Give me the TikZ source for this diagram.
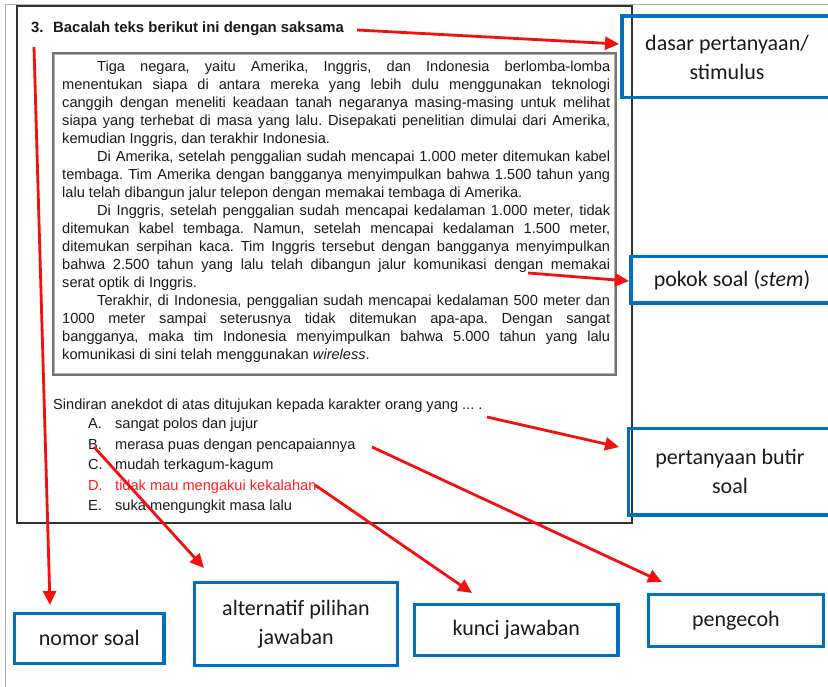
\documentclass[tikz,border=0pt]{standalone}
\usepackage{fontspec}
\setmainfont{Liberation Sans}
\newfontfamily\calibri{Carlito}
\usetikzlibrary{arrows.meta}
\definecolor{boxblue}{HTML}{0070C0}
\definecolor{arrred}{HTML}{F41010}
\definecolor{ink}{HTML}{1A1A1A}
\definecolor{keyred}{HTML}{FF2020}
\frenchspacing
% a justified line of the passage
\newcommand\jline[1]{\makebox[\linewidth][s]{#1}}
\newcommand\ind{\hspace*{35pt}}

\begin{document}
\begin{tikzpicture}[x=1pt,y=-1pt,
  box/.style={draw=boxblue, line width=3.5pt, align=center, text=ink,
    font=\calibri\fontsize{22}{29}\selectfont, inner sep=0pt},
  pointer/.style={draw=arrred, line width=2.8pt, -{Triangle[length=14pt,width=13pt]}},
  body/.style={font=\fontsize{14.6}{18}\selectfont, text=ink, inner sep=0pt, anchor=base west},
]
\useasboundingbox (0,0) rectangle (828,687);
\fill[white] (0,0) rectangle (828,687);
\clip (0,0) rectangle (828,687);

% page frame
\draw[gray!60, line width=1pt] (5,687) -- (5,5) -- (828,5);
% question sheet
\draw[black!80, line width=1.5pt] (17,6) rectangle (632,523);
% passage frame
\draw[black!55, line width=1.3pt] (53,53) rectangle (616,375);
\draw[black!30, line width=0.8pt] (54.8,54.8) rectangle (614.2,373.2);

% question number and instruction
\node[body, font=\bfseries\fontsize{14.9}{18}\selectfont] (num) at (31,33) {3.};
\node[body, font=\bfseries\fontsize{14.9}{18}\selectfont] (heading) at (53,33) {Bacalah teks berikut ini dengan saksama};

% passage
\node[body] (passage) at (62,72) {\parbox[t]{548pt}{\fontsize{14.6}{18}\selectfont
\jline{\ind Tiga negara, yaitu Amerika, Inggris, dan Indonesia berlomba-lomba}\\
\jline{menentukan siapa di antara mereka yang lebih dulu menggunakan teknologi}\\
\jline{canggih dengan meneliti keadaan tanah negaranya masing-masing untuk melihat}\\
\jline{siapa yang terhebat di masa yang lalu. Disepakati penelitian dimulai dari Amerika,}\\
kemudian Inggris, dan terakhir Indonesia.\\
\jline{\ind Di Amerika, setelah penggalian sudah mencapai 1.000 meter ditemukan kabel}\\
\jline{tembaga. Tim Amerika dengan bangganya menyimpulkan bahwa 1.500 tahun yang}\\
lalu telah dibangun jalur telepon dengan memakai tembaga di Amerika.\\
\jline{\ind Di Inggris, setelah penggalian sudah mencapai kedalaman 1.000 meter, tidak}\\
\jline{ditemukan kabel tembaga. Namun, setelah mencapai kedalaman 1.500 meter,}\\
\jline{ditemukan serpihan kaca. Tim Inggris tersebut dengan bangganya menyimpulkan}\\
\jline{bahwa 2.500 tahun yang lalu telah dibangun jalur komunikasi dengan memakai}\\
serat optik di Inggris.\\
\jline{\ind Terakhir, di Indonesia, penggalian sudah mencapai kedalaman 500 meter dan}\\
\jline{1000 meter sampai seterusnya tidak ditemukan apa-apa. Dengan sangat}\\
\jline{bangganya, maka tim Indonesia menyimpulkan bahwa 5.000 tahun yang lalu}\\
komunikasi di sini telah menggunakan \textit{wireless}.}};

% question stem and options
\node[body] (stem) at (53,409.5) {Sindiran anekdot di atas ditujukan kepada karakter orang yang ... .};
\node[body] (optA) at (88,428.5) {\makebox[27pt][l]{A.}sangat polos dan jujur};
\node[body] (optB) at (88,449) {\makebox[27pt][l]{B.}merasa puas dengan pencapaiannya};
\node[body] (optC) at (88,469.5) {\makebox[27pt][l]{C.}mudah terkagum-kagum};
\node[body, text=keyred] (optD) at (88,490) {\makebox[27pt][l]{D.}tidak mau mengakui kekalahan};
\node[body] (optE) at (88,510.5) {\makebox[27pt][l]{E.}suka mengungkit masa lalu};

% labels
\node[box, minimum width=210.5pt, minimum height=81.5pt] (dasar) at (727,57) {dasar pertanyaan/\\stimulus};
\node[box, minimum width=202pt, minimum height=46.5pt] (pokok) at (732,280) {pokok soal (\textit{stem})};
\node[box, minimum width=203pt, minimum height=86.5pt] (butir) at (730,471.7) {pertanyaan butir\\soal};
\node[box, minimum width=149.5pt, minimum height=49.8pt] (nomor) at (89.25,638.4) {nomor soal};
\node[box, minimum width=203pt, minimum height=83pt] (alt) at (296,624) {alternatif pilihan\\jawaban};
\node[box, minimum width=203.7pt, minimum height=51pt] (kunci) at (516.3,630) {kunci jawaban};
\node[box, minimum width=174.7pt, minimum height=52pt] (kecoh) at (735.9,620.5) {pengecoh};

% pointer ends
\coordinate (fromHeading) at (357,30);
\coordinate (toDasar) at (619,44);
\coordinate (fromPassage) at (528,273);
\coordinate (toPokok) at (629,281);
\coordinate (fromStem) at (487,417);
\coordinate (toButir) at (619,447);
\coordinate (fromNum) at (34,47);
\coordinate (toNomor) at (50,605);
\coordinate (fromLetterB) at (94,447);
\coordinate (toAlt) at (204,568);
\coordinate (fromKey) at (315,485);
\coordinate (toKunci) at (472,593);
\coordinate (fromOptB) at (372,447);
\coordinate (toKecoh) at (662,582);

\draw[pointer] (fromHeading) -- (toDasar);
\draw[pointer] (fromPassage) -- (toPokok);
\draw[pointer] (fromStem) -- (toButir);
\draw[pointer] (fromNum) -- (toNomor);
\draw[pointer] (fromLetterB) -- (toAlt);
\draw[pointer] (fromKey) -- (toKunci);
\draw[pointer] (fromOptB) -- (toKecoh);
\end{tikzpicture}
\end{document}
